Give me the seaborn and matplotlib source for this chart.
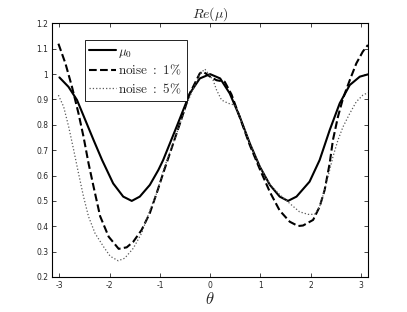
import numpy as np
import pandas as pd
import matplotlib
matplotlib.use("Agg")
import matplotlib.pyplot as plt
import seaborn as sns

# values
theta_mu0 = [-3.0, -2.82, -2.65, -2.485, -2.32, -2.15, -1.93, -1.73, -1.56, -1.40,
             -1.20, -1.03, -0.935, -0.668, -0.404, -0.205, 0.0, 0.2, 0.39, 0.59,
             0.79, 0.99, 1.19, 1.385, 1.55, 1.72, 1.98, 2.18, 2.38, 2.58,
             2.78, 2.98, 3.1416]
mu0 = [0.987, 0.95, 0.898, 0.819, 0.74, 0.661, 0.569, 0.517, 0.50, 0.517,
       0.563, 0.622, 0.661, 0.792, 0.924, 0.983, 1.0, 0.983, 0.924, 0.832,
       0.727, 0.635, 0.563, 0.517, 0.50, 0.517, 0.576, 0.661, 0.779, 0.885,
       0.957, 0.99, 0.999]

theta_n1 = [-3.02, -2.88, -2.75, -2.62, -2.52, -2.42, -2.32, -2.19, -2.02, -1.82,
            -1.66, -1.53, -1.365, -1.2, -1.065, -1.0, -0.935, -0.80, -0.60, -0.404,
            -0.205, -0.14, 0.0, 0.127, 0.29, 0.425, 0.59, 0.79, 0.99, 1.19,
            1.385, 1.585, 1.75, 1.85, 2.05, 2.18, 2.28, 2.38, 2.445, 2.545,
            2.645, 2.78, 2.91, 3.04, 3.1416]
noise1 = [1.12, 1.042, 0.95, 0.845, 0.753, 0.648, 0.556, 0.44, 0.359, 0.311,
          0.317, 0.339, 0.385, 0.452, 0.53, 0.569, 0.609, 0.688, 0.806, 0.924,
          1.003, 1.01, 0.99, 0.976, 0.97, 0.92, 0.83, 0.72, 0.625, 0.535,
          0.462, 0.418, 0.401, 0.403, 0.425, 0.477, 0.543, 0.648, 0.74, 0.832,
          0.904, 0.976, 1.042, 1.089, 1.115]

theta_n5 = [-3.02, -2.915, -2.815, -2.715, -2.62, -2.52, -2.42, -2.29, -2.12, -1.99,
            -1.83, -1.70, -1.53, -1.365, -1.2, -1.065, -0.935, -0.668, -0.404, -0.205,
            -0.105, 0.06, 0.127, 0.227, 0.358, 0.49, 0.59, 0.79, 0.99, 1.19,
            1.385, 1.585, 1.78, 1.95, 2.08, 2.18, 2.28, 2.38, 2.445, 2.545,
            2.645, 2.78, 2.91, 3.04, 3.1416]
noise5 = [0.917, 0.871, 0.792, 0.70, 0.609, 0.517, 0.438, 0.372, 0.319, 0.282,
          0.264, 0.274, 0.313, 0.372, 0.462, 0.53, 0.618, 0.766, 0.911, 1.0,
          1.02, 0.976, 0.938, 0.898, 0.885, 0.878, 0.832, 0.727, 0.635, 0.565,
          0.525, 0.49, 0.457, 0.447, 0.447, 0.477, 0.543, 0.622, 0.674, 0.74,
          0.792, 0.845, 0.891, 0.917, 0.927]

labels = [r'$\mu_0$', r'$\mathrm{noise}\ :\ 1\%$', r'$\mathrm{noise}\ :\ 5\%$']
xticks = [-3, -2, -1, 0, 1, 2, 3]
yticks = [0.2, 0.3, 0.4, 0.5, 0.6, 0.7, 0.8, 0.9, 1.0, 1.1, 1.2]
ytick_labels = ['0.2', '0.3', '0.4', '0.5', '0.6', '0.7', '0.8', '0.9', '1', '1.1', '1.2']

sns.set_style('ticks')
plt.rcParams['mathtext.fontset'] = 'cm'
plt.rcParams['xtick.direction'] = 'in'
plt.rcParams['ytick.direction'] = 'in'

fig = plt.figure(figsize=(4.07, 3.12), dpi=100)
ax = fig.add_axes([0.1285, 0.1122, 0.7755, 0.8128])

series = [(theta_mu0, mu0, '-', 1.5, 'black'),
          (theta_n1, noise1, '--', 1.5, 'black'),
          (theta_n5, noise5, ':', 0.9, '0.35')]
for (t, v, ls, lw, col), lab in zip(series, labels):
    d = pd.DataFrame({'theta': t, 'val': v})
    sns.lineplot(data=d, x='theta', y='val', ax=ax, sort=False, estimator=None,
                 color=col, linestyle=ls, linewidth=lw, label=lab)

ax.set_xlim(-np.pi, np.pi)
ax.set_ylim(0.2, 1.2)
ax.set_xticks(xticks)
ax.set_xticklabels([str(x) for x in xticks])
ax.set_yticks(yticks)
ax.set_yticklabels(ytick_labels)
ax.tick_params(labelsize=5.5, length=3, width=0.6, top=True, right=True, pad=3)
for s in ax.spines.values():
    s.set_visible(True)
    s.set_linewidth(0.8)
    s.set_color('black')

ax.set_title(r'$Re(\mu)$', fontsize=10, pad=4)
ax.set_xlabel(r'$\theta$', fontsize=12, labelpad=0)
ax.set_ylabel('')

leg = ax.legend(loc='upper left', bbox_to_anchor=(0.103, 0.935), fontsize=9.5,
                frameon=True, fancybox=False, handlelength=2.0, handletextpad=0.2,
                borderpad=0.35, labelspacing=0.3, borderaxespad=0)
leg.get_frame().set_edgecolor('black')
leg.get_frame().set_linewidth(0.6)
leg.get_frame().set_alpha(1)

fig.savefig('out.png', dpi=100)
